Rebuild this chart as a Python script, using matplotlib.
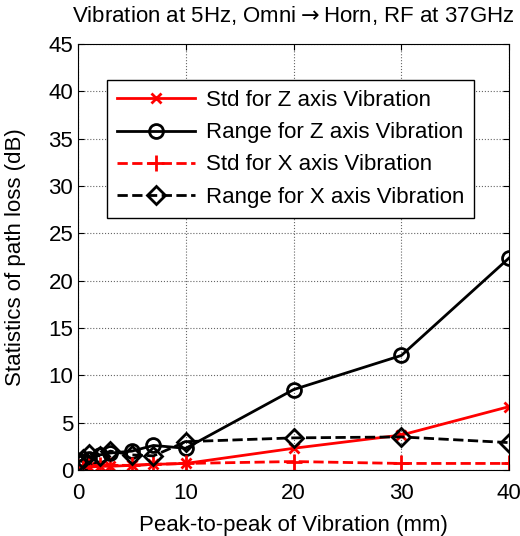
import matplotlib.pyplot as plt
import numpy as np

plt.rcParams['font.family'] = ['Liberation Sans', 'DejaVu Sans']

# peak-to-peak vibration (mm)
x = np.array([0, 0.5, 1, 2, 3, 5, 7, 10, 20, 30, 40])

std_z = np.array([0.1, 0.2, 0.3, 0.4, 0.4, 0.5, 0.6, 0.7, 2.3, 3.7, 6.7])
range_z = np.array([1.0, 0.9, 1.2, 1.6, 1.8, 2.0, 2.6, 2.3, 8.5, 12.1, 22.4])
std_x = np.array([0.3, 0.3, 0.4, 0.5, 0.5, 0.5, 0.6, 0.7, 0.9, 0.7, 0.7])
range_x = np.array([0.8, 1.2, 1.7, 1.5, 2.0, 1.6, 1.5, 3.0, 3.4, 3.5, 2.9])

fig = plt.figure(figsize=(5.2, 5.36), dpi=100)
ax = fig.add_axes([0.15, 0.123, 0.829, 0.795])

ax.plot(x, std_z, 'r-x', lw=2, ms=7, mew=2, label='Std for Z axis Vibration')
ax.plot(x, range_z, 'k-o', lw=2, ms=10, mew=2, mfc='none', label='Range for Z axis Vibration')
ax.plot(x, std_x, 'r--+', lw=2, ms=12, mew=2, label='Std for X axis Vibration')
ax.plot(x, range_x, 'k--D', lw=2, ms=9, mew=2, mfc='none', label='Range for X axis Vibration')

ax.set_xlim(0, 40)
ax.set_ylim(0, 45)
ax.set_xticks(np.arange(0, 41, 10))
ax.set_yticks(np.arange(0, 46, 5))
ax.tick_params(direction='in', labelsize=16, length=4, top=True, right=True)
ax.tick_params(axis='x', pad=9)
ax.grid(True, linestyle=':', color='0.4', lw=0.8)

ax.set_xlabel('Peak-to-peak of Vibration (mm)', fontsize=16, labelpad=8)
ax.set_ylabel('Statistics of path loss (dB)', fontsize=16, labelpad=16)
ax.set_title(r'Vibration at 5Hz, Omni$\rightarrow$Horn, RF at 37GHz', fontsize=16, pad=16)

ax.legend(loc='upper left', bbox_to_anchor=(0.067, 0.915), borderaxespad=0,
          fontsize=16, fancybox=False, edgecolor='black', framealpha=1,
          handlelength=3.5, labelspacing=0.5, borderpad=0.45, handletextpad=0.5)

fig.savefig('out.png', dpi=100)
